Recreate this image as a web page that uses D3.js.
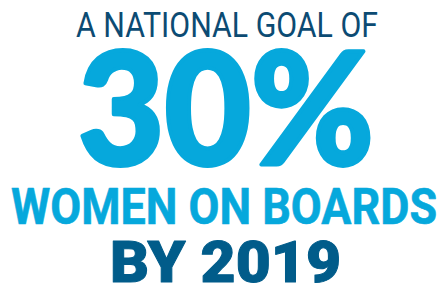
<!DOCTYPE html>
<html>
<head>
<meta charset="utf-8">
<script src="https://cdn.jsdelivr.net/npm/d3@7"></script>
<style>
  html, body { margin: 0; padding: 0; background: #fff; }
  svg { display: block; }
</style>
</head>
<body>
<div id="chart"></div>
<script>
const W = 448, H = 295;

// the figures in the graphic
const goalPct = 30;
const goalYear = 2019;

// one entry per line of text
const lineTexts = ["A NATIONAL GOAL OF", `${goalPct}%`, "WOMEN ON BOARDS", `BY ${goalYear}`];
const lineLeft = [76, 78, 11, 110];
const lineRight = [378, 374, 437, 341];
const lineBase = [37, 165, 224, 282];
const lineSize = [35, 156, 50, 57];
const lineWeight = [400, 900, 700, 900];
const lineFont = ["Roboto", "Lato", "Roboto", "Roboto"];
const lineColor = ["#0c4b73", "#06a8dc", "#06a8dc", "#015c8a"];
const lineStroke = [0, 4, 0.6, 1];

const svg = d3.select("#chart")
  .append("svg")
  .attr("width", W)
  .attr("height", H);

svg.selectAll("text")
  .data(lineTexts)
  .join("text")
  .attr("x", (d, i) => lineLeft[i])
  .attr("y", (d, i) => lineBase[i])
  .attr("textLength", (d, i) => lineRight[i] - lineLeft[i])
  .attr("lengthAdjust", "spacingAndGlyphs")
  .style("font-family", (d, i) => `${lineFont[i]}, sans-serif`)
  .style("font-size", (d, i) => lineSize[i] + "px")
  .style("font-weight", (d, i) => lineWeight[i])
  .attr("fill", (d, i) => lineColor[i])
  .attr("stroke", (d, i) => lineColor[i])
  .attr("stroke-width", (d, i) => lineStroke[i])
  .attr("stroke-linejoin", "round")
  .text(d => d);
</script>
</body>
</html>
